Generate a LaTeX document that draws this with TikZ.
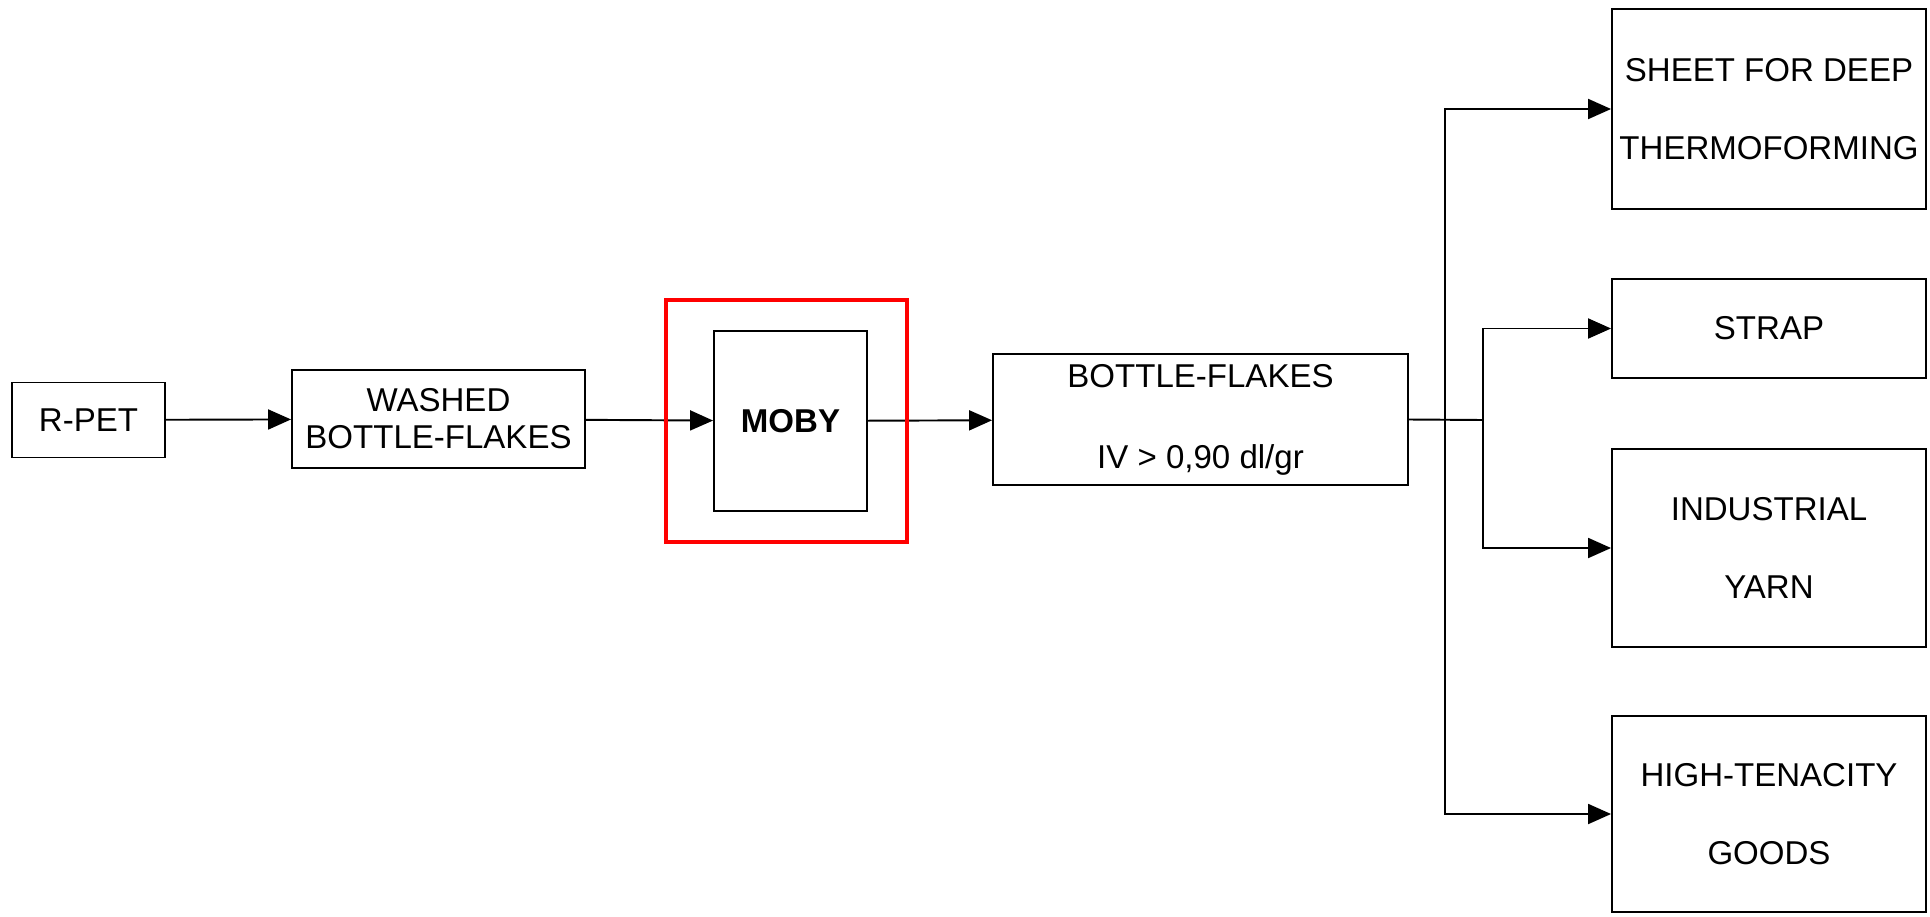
\documentclass[tikz,border=0pt]{standalone}
\usepackage{fontspec}
\setmainfont{Liberation Sans}
\usetikzlibrary{arrows.meta}

\begin{document}
\begin{tikzpicture}[
  x=0.02cm, y=-0.02cm,
  >={Triangle[length=0.46cm, width=0.4cm]},
  every node/.style={font=\fontsize{18.8}{21}\selectfont},
  box/.style={rectangle, draw=black, line width=1.1pt, inner sep=0pt, align=center},
  tallbox/.style={box, font=\fontsize{18.8}{44}\selectfont},
  outbox/.style={tallbox, minimum width=6.28cm},
  frame/.style={rectangle, draw=red, line width=2.6pt, inner sep=0pt},
  flow/.style={->, line width=1.1pt}
]
  \useasboundingbox (0,0) rectangle (1930,916);

  % main line
  \node[box, minimum width=3.06cm, minimum height=1.5cm] (rpet) at (88.5,420) {R-PET};
  \node[box, minimum width=5.86cm, minimum height=1.96cm] (washed) at (438.5,419) {WASHED\\BOTTLE-FLAKES};
  \node[box, minimum width=3.06cm, minimum height=3.6cm, font=\fontsize{18.8}{21}\selectfont\bfseries] (moby) at (790.5,421) {MOBY};
  \node[tallbox, minimum width=8.3cm, minimum height=2.62cm, font=\fontsize{18.8}{46}\selectfont] (flakes) at (1200.5,419.5) {BOTTLE-FLAKES\\IV > 0,90 dl/gr};

  % products
  \node[outbox, minimum height=4cm] (sheet) at (1769,109) {SHEET FOR DEEP\\THERMOFORMING};
  \node[outbox, minimum height=1.98cm] (strap) at (1769,328.5) {STRAP};
  \node[outbox, minimum height=3.96cm] (yarn) at (1769,548) {INDUSTRIAL\\YARN};
  \node[outbox, minimum height=3.92cm] (goods) at (1769,814) {HIGH-TENACITY\\GOODS};

  \coordinate (splitA) at (1445,420);
  \coordinate (splitB) at (1483,420);

  \draw[flow] (rpet) -- (washed);
  \draw[flow] (washed) -- (moby);
  \draw[flow] (moby) -- (flakes);
  \draw[line width=1.1pt] (flakes.east) -- (splitB);
  \draw[flow] (splitA) |- (sheet.west);
  \draw[flow] (splitA) |- (goods.west);
  \draw[flow] (splitB) |- (strap.west);
  \draw[flow] (splitB) |- (yarn.west);

  % highlight round MOBY
  \node[frame, minimum width=4.82cm, minimum height=4.84cm] (mobyframe) at (786.5,421) {};
\end{tikzpicture}
\end{document}
